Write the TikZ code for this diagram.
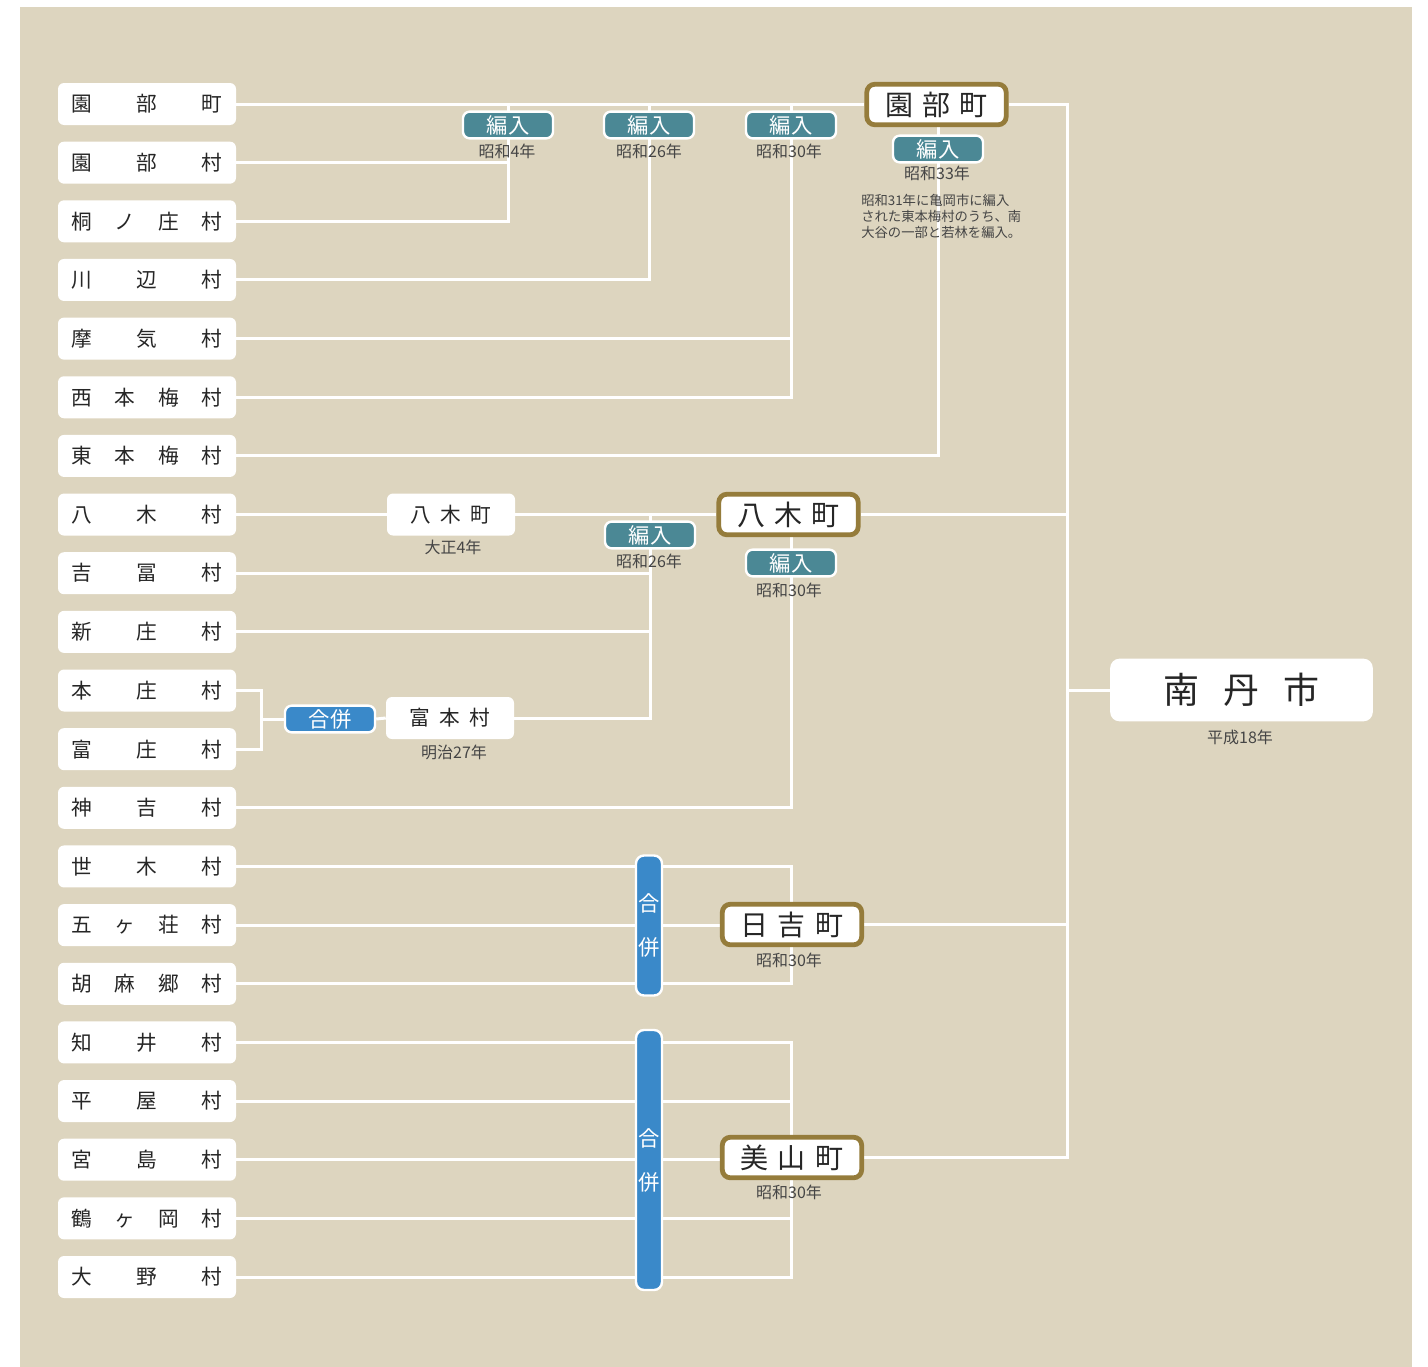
\documentclass[tikz,border=0pt]{standalone}
\usepackage{fontspec}
\setmainfont{Noto Sans CJK JP}
\usetikzlibrary{backgrounds}
\definecolor{bgbeige}{HTML}{DDD5BF}
\definecolor{badgeteal}{HTML}{4B8895}
\definecolor{mergeblue}{HTML}{3A89C9}
\definecolor{goldline}{HTML}{957C3B}
\definecolor{ink}{HTML}{262626}
\definecolor{subink}{HTML}{454545}
\newcommand{\lbtext}[1]{\makebox[113pt]{#1}}
\tikzset{
  villbox/.style={fill=white, rounded corners=4.5pt, minimum width=133.5pt, minimum height=31.5pt, inner sep=0pt, text=ink, font=\fontsize{15.5}{15.5}\selectfont},
  whitebox/.style={fill=white, rounded corners=4.5pt, minimum width=96pt, minimum height=31.5pt, inner sep=0pt, text=ink, font=\fontsize{15.5}{15.5}\selectfont},
  goldbox/.style={fill=white, draw=goldline, line width=3.6pt, rounded corners=6pt, minimum width=104.5pt, minimum height=30.4pt, inner sep=0pt, text=ink, font=\fontsize{21}{21}\selectfont},
  cityb/.style={fill=white, rounded corners=7pt, minimum width=197pt, minimum height=47pt, inner sep=0pt, text=ink, font=\fontsize{27}{27}\selectfont},
  badge/.style={fill=badgeteal, draw=white, line width=1.8pt, rounded corners=5pt, minimum width=67.5pt, minimum height=20pt, inner sep=0pt, text=white, font=\fontsize{16}{16}\selectfont},
  mergebadge/.style={badge, fill=mergeblue},
  mergebar/.style={fill=mergeblue, draw=white, line width=1.8pt, rounded corners=6pt, minimum width=19.5pt, inner sep=0pt, text=white, align=center, font=\fontsize{16}{33}\selectfont},
  yearlbl/.style={inner sep=0pt, text=subink, font=\fontsize{12}{12}\selectfont},
  notelbl/.style={inner sep=0pt, text=subink, align=left, font=\fontsize{10}{12}\selectfont},
  link/.style={draw=white, line width=2.25pt}
}
\begin{document}
\begin{tikzpicture}[x=0.75pt, y=-0.75pt]
\useasboundingbox (0,0) rectangle (1428,1367);
% left village boxes
\foreach \t [count=\i] in {
  {園\hfill 部\hfill 町},{園\hfill 部\hfill 村},{桐\hfill ノ\hfill 庄\hfill 村},{川\hfill 辺\hfill 村},
  {摩\hfill 気\hfill 村},{西\hfill 本\hfill 梅\hfill 村},{東\hfill 本\hfill 梅\hfill 村},{八\hfill 木\hfill 村},
  {吉\hfill 冨\hfill 村},{新\hfill 庄\hfill 村},{本\hfill 庄\hfill 村},{富\hfill 庄\hfill 村},
  {神\hfill 吉\hfill 村},{世\hfill 木\hfill 村},{五\hfill ヶ\hfill 荘\hfill 村},{胡\hfill 麻\hfill 郷\hfill 村},
  {知\hfill 井\hfill 村},{平\hfill 屋\hfill 村},{宮\hfill 島\hfill 村},{鶴\hfill ヶ\hfill 岡\hfill 村},
  {大\hfill 野\hfill 村}}
  \node[villbox] (L\i) at (147,{104+(\i-1)*58.65}) {\lbtext{\t}};

% 園部町 group
\node[goldbox] (sonobe) at (936.5,104.5) {園\hspace{7pt}部\hspace{7pt}町};
\node[badge] (b1) at (508,125) {編入};
\node[yearlbl] (y1) at (507,151) {昭和4年};
\node[badge] (b2) at (649,125) {編入};
\node[yearlbl] (y2) at (649,151) {昭和26年};
\node[badge] (b3) at (791,125) {編入};
\node[yearlbl] (y3) at (789,151) {昭和30年};
\node[badge] (b4) at (938,149) {編入};
\node[yearlbl] (y4) at (937,173) {昭和33年};
\node[notelbl, anchor=west] (note) at (861,216) {昭和31年に亀岡市に編入\\された東本梅村のうち、南\\大谷の一部と若林を編入。};

% 八木町 group
\node[whitebox] (yagiT) at (451,514.5) {八\hspace{7pt}木\hspace{7pt}町};
\node[yearlbl] (y5) at (453,547) {大正4年};
\node[goldbox] (yagi) at (788.5,514.5) {八\hspace{7pt}木\hspace{7pt}町};
\node[badge] (b5) at (650,535) {編入};
\node[yearlbl] (y6) at (649,561) {昭和26年};
\node[badge] (b6) at (791,563) {編入};
\node[yearlbl] (y7) at (789,590) {昭和30年};
\node[mergebadge] (gp1) at (330,719) {合併};
\node[whitebox] (tomimoto) at (450,718) {富\hspace{7pt}本\hspace{7pt}村};
\node[yearlbl] (y8) at (454,752) {明治27年};

% 日吉町 group
\node[mergebar, minimum height=105pt] (bar1) at (649,925.5) {合\\併};
\node[goldbox] (hiyoshi) at (792,924.5) {日\hspace{7pt}吉\hspace{7pt}町};
\node[yearlbl] (y9) at (789,960) {昭和30年};

% 美山町 group
\node[mergebar, minimum height=195pt] (bar2) at (649,1160) {合\\併};
\node[goldbox] (miyama) at (792,1157.5) {美\hspace{7pt}山\hspace{7pt}町};
\node[yearlbl] (y10) at (789,1192) {昭和30年};

% 南丹市
\node[cityb] (nantan) at (1241.5,690) {南\hspace{18pt}丹\hspace{18pt}市};
\node[yearlbl] (y11) at (1240,737) {平成18年};

\coordinate (tk) at (1067,104);
\coordinate (hx) at (791,0);
\coordinate (j1) at (261,719);

\begin{scope}[on background layer]
  \fill[bgbeige] (20,7) rectangle (1412,1367);
  % 園部町
  \draw[link] (L1.east) -- (L1.east -| sonobe.west);
  \draw[link] (sonobe.east) -- (sonobe.east -| tk) -- (miyama.east -| tk) -- (miyama.east);
  \draw[link] (yagi.east) -- (yagi.east -| tk);
  \draw[link] (hiyoshi.east) -- (hiyoshi.east -| tk);
  \draw[link] (nantan.west -| tk) -- (nantan.west);
  \draw[link] (L2.east) -- (L2.east -| b1.center);
  \draw[link] (L3.east) -| (b1.center |- L1.east);
  \draw[link] (L4.east) -| (b2.center |- L1.east);
  \draw[link] (L5.east) -- (L5.east -| b3.center);
  \draw[link] (L6.east) -| (b3.center |- L1.east);
  \draw[link] (L7.east) -| (b4.center |- sonobe.south);
  % 八木町
  \draw[link] (L8.east) -- (L8.east -| yagiT.west);
  \draw[link] (yagiT.east) -- (yagi.west);
  \draw[link] (b5.center |- yagiT.east) -- (b5.center |- tomimoto.east) -- (tomimoto.east);
  \draw[link] (L9.east) -- (L9.east -| b5.center);
  \draw[link] (L10.east) -- (L10.east -| b5.center);
  \draw[link] (L11.east) -| (j1) |- (L12.east);
  \draw[link] (j1) -- (gp1.west);
  \draw[link] (gp1.east) -- (tomimoto.west);
  \draw[link] (L13.east) -| (b6.center |- yagi.south);
  % 日吉町
  \draw[link] (L14.east) -- (L14.east -| hx) -- (L16.east -| hx) -- (L16.east);
  \draw[link] (L15.east) -- (L15.east -| hiyoshi.west);
  % 美山町
  \draw[link] (L17.east) -- (L17.east -| hx) -- (L21.east -| hx) -- (L21.east);
  \draw[link] (L18.east) -- (L18.east -| hx);
  \draw[link] (L20.east) -- (L20.east -| hx);
  \draw[link] (L19.east) -- (L19.east -| miyama.west);
\end{scope}
\end{tikzpicture}
\end{document}
